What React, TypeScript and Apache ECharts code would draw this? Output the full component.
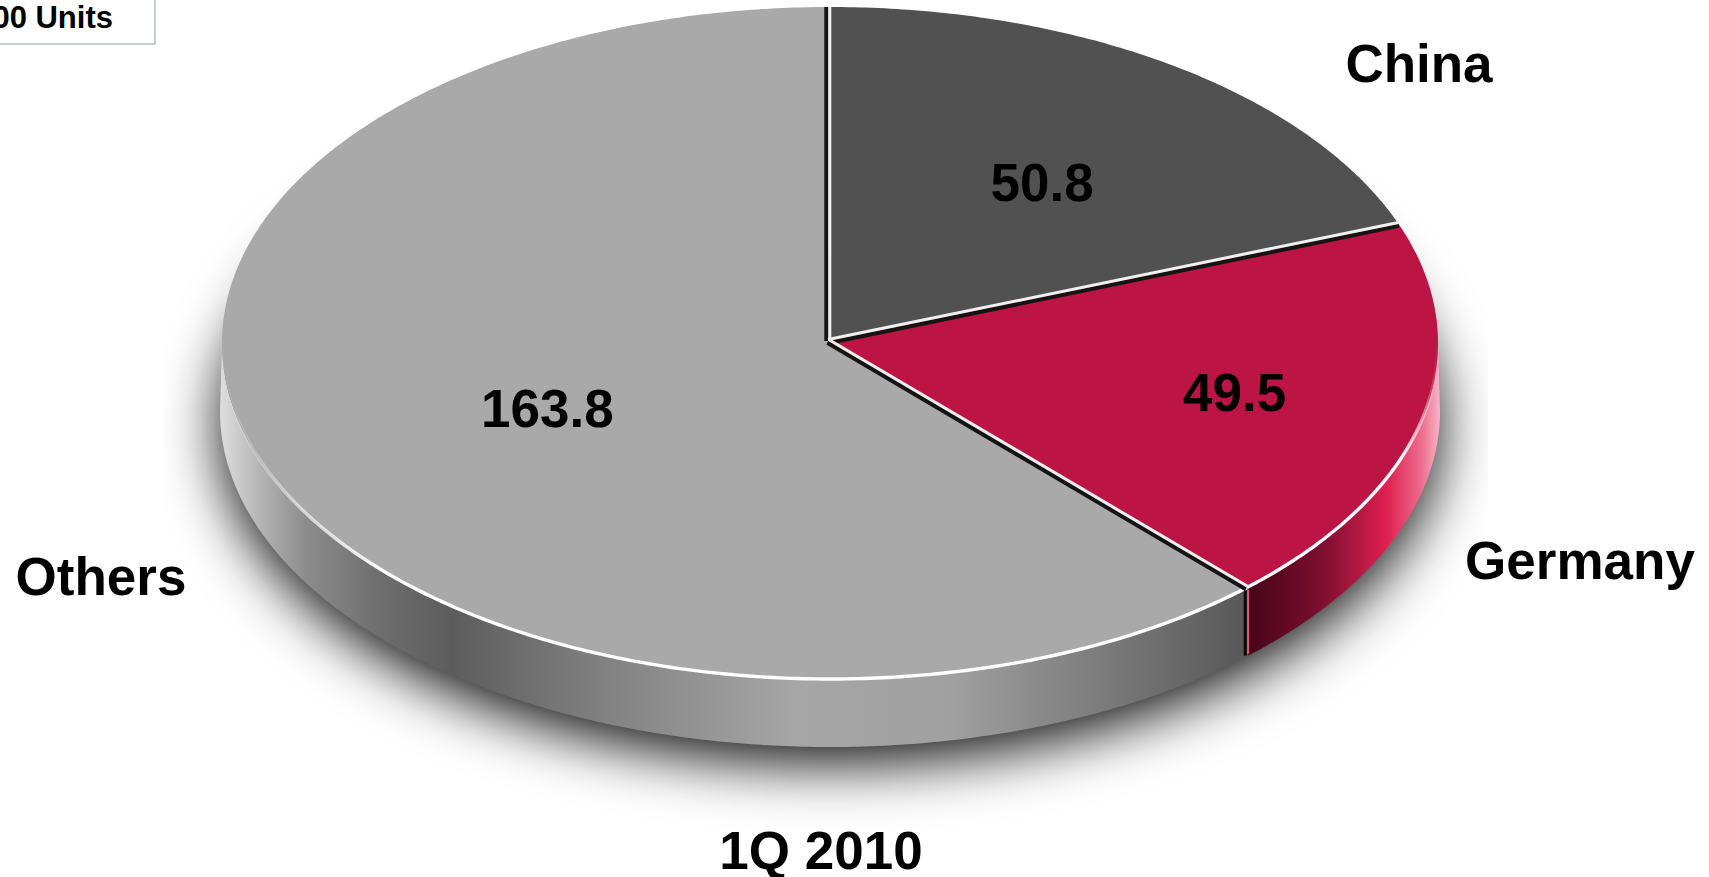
import React, { useEffect, useRef } from "react";
import * as echarts from "echarts";

// Quarterly volumes by market
const categories = ["China", "Germany", "Others"];
const values = [50.8, 49.5, 163.8];
const periodLabel = "1Q 2010";
const unitLabel = "00 Units";

// Disc geometry in page pixels
const CX = 830;
const CY = 343;
const RX = 608;
const RY = 336;
const DEPTH = 68;
const APEX = [828.3, 341];
const FONT = "'Liberation Sans', Arial, sans-serif";

const topColors = ["#515151", "#bc1444", "#a9a9a9"];
const namePositions = [
  [1419, 63],
  [1580, 560],
  [101, 576],
];
const valueRadius = [
  [0.614, 0.58],
  [0.683, 0.66],
  [0.5, 0.529],
];

const greyWall = [
  [0, "#dedede"],
  [0.03, "#b8b8b8"],
  [0.07, "#8c8c8c"],
  [0.13, "#6e6e6e"],
  [0.19, "#5c5c5c"],
  [0.31, "#808080"],
  [0.47, "#a6a6a6"],
  [0.6, "#a0a0a0"],
  [0.72, "#7c7c7c"],
  [0.84, "#585858"],
  [1, "#585858"],
];
const redWall = [
  [0, "#46031a"],
  [0.4, "#7f0e30"],
  [0.72, "#de1f50"],
  [0.9, "#ec6a8c"],
  [1, "#f8b4c8"],
];

const total = values.reduce((a, b) => a + b, 0);
const turn = (v: number) => (v / total) * Math.PI * 2;
const startAngles = values.map((_, i) => turn(values.slice(0, i).reduce((a, b) => a + b, 0)));
const endAngles = values.map((v, i) => startAngles[i] + turn(v));

const onEllipse = (t: number, rx = RX, ry = RY, dy = 0) => [
  CX + rx * Math.sin(t),
  CY + dy - ry * Math.cos(t),
];

const arcPoints = (a: number, b: number, rx = RX, ry = RY, dy = 0) => {
  const n = Math.max(2, Math.ceil(Math.abs(b - a) / 0.01));
  const pts: number[][] = [];
  for (let i = 0; i <= n; i++) pts.push(onEllipse(a + ((b - a) * i) / n, rx, ry, dy));
  return pts;
};

const toPath = (pts: number[][], close = false) =>
  "M" + pts.map((p) => `${p[0].toFixed(2)} ${p[1].toFixed(2)}`).join("L") + (close ? "Z" : "");

const hGradient = (x0: number, x1: number, stops: any[]) => ({
  type: "linear",
  x: x0,
  y: 0,
  x2: x1,
  y2: 0,
  global: true,
  colorStops: stops.map(([offset, color]) => ({ offset, color })),
});

// Pair of parallel strokes (one white, one black) along a slice boundary
const edgePair = (t: number, side: number) => {
  const end = onEllipse(t);
  if (t === 0) end[0] = APEX[0];
  const dx = end[0] - APEX[0];
  const dy = end[1] - APEX[1];
  const len = Math.hypot(dx, dy);
  const nx = (-dy / len) * side;
  const ny = (dx / len) * side;
  const stroke = (off: number, color: string, width: number, z2: number) => ({
    type: "line",
    z2,
    shape: {
      x1: APEX[0] + nx * off,
      y1: APEX[1] + ny * off,
      x2: end[0] + nx * off,
      y2: end[1] + ny * off,
    },
    style: { stroke: color, lineWidth: width, fill: "none" },
  });
  return [stroke(1.5, "#f0f0f0", 3, 5), stroke(-2, "#141414", 4, 4)];
};

const renderSlice = (params: any, api: any) => {
  const i = params.dataIndex;
  const start = startAngles[i];
  const end = endAngles[i];
  const children: any[] = [];

  if (i === 0) {
    // Soft drop shadow cast by the disc, trimmed to a band left and right
    children.push({
      type: "ellipse",
      z2: 0,
      shape: { cx: CX, cy: CY + DEPTH, rx: RX, ry: RY - 1 },
      style: {
        fill: "#555",
        shadowBlur: 60,
        shadowColor: "rgba(0,0,0,0.97)",
        shadowOffsetX: 0,
        shadowOffsetY: 16,
      },
    });
    children.push(
      { type: "rect", z2: 1, shape: { x: 0, y: 0, width: 163, height: 877 }, style: { fill: "#fff" } },
      { type: "rect", z2: 1, shape: { x: 1488, y: 0, width: 221, height: 877 }, style: { fill: "#fff" } },
    );
  }

  // Visible wall: only the front half of the disc, from 90deg to 270deg
  const wallStart = Math.max(start, Math.PI / 2);
  const wallEnd = Math.min(end, (Math.PI * 3) / 2);
  if (wallEnd > wallStart) {
    const upper = arcPoints(wallStart, wallEnd);
    const lower = arcPoints(wallEnd, wallStart, RX + 2, RY, DEPTH);
    const isRed = i === 1;
    children.push({
      type: "path",
      z2: 2,
      shape: { pathData: toPath([...upper, ...lower], true) },
      style: {
        fill: isRed ? hGradient(onEllipse(end)[0], CX + RX + 2, redWall) : hGradient(CX - RX - 2, CX + RX + 2, greyWall),
      },
    });
  }

  // Upper face of the slice
  children.push({
    type: "path",
    z2: 3,
    shape: { pathData: toPath([APEX, ...arcPoints(start, end)], true) },
    style: { fill: topColors[i] },
  });

  // Highlight along the front rim
  if (wallEnd > wallStart) {
    const isRed = i === 1;
    const x0 = isRed ? onEllipse(end)[0] : CX - RX;
    const x1 = isRed ? CX + RX : onEllipse(start)[0];
    const span = x1 - x0;
    const stops = isRed
      ? [
          [0, "rgba(255,255,255,1)"],
          [0.8, "rgba(255,255,255,1)"],
          [0.92, "rgba(255,255,255,0.5)"],
          [1, "rgba(255,255,255,0)"],
        ]
      : [
          [0, "rgba(255,255,255,0)"],
          [70 / span, "rgba(255,255,255,0.55)"],
          [170 / span, "rgba(255,255,255,1)"],
          [1, "rgba(255,255,255,1)"],
        ];
    children.push({
      type: "path",
      z2: 4,
      shape: { pathData: toPath(arcPoints(wallStart, wallEnd)) },
      style: { fill: "none", stroke: hGradient(x0, x1, stops), lineWidth: 3.4 },
    });
  }

  // Boundaries: the white stroke lies clockwise of the black one at the top, anticlockwise elsewhere
  children.push(...edgePair(start, i === 0 ? 1 : -1));

  // Vertical seam on the wall between Germany and Others
  if (i === 1) {
    const p = onEllipse(end);
    children.push(
      {
        type: "line",
        z2: 4,
        shape: { x1: p[0] - 1.5, y1: p[1], x2: p[0] - 1.5, y2: p[1] + DEPTH },
        style: { stroke: "#0c0c0c", lineWidth: 3.2 },
      },
      {
        type: "line",
        z2: 4,
        shape: { x1: p[0] + 1.2, y1: p[1] + 2, x2: p[0] + 1.2, y2: p[1] + DEPTH - 2 },
        style: { stroke: "#e2547a", lineWidth: 2.2 },
      },
    );
  }

  // Value and market labels
  const mid = (start + end) / 2;
  children.push({
    type: "text",
    z2: 6,
    style: {
      x: CX + RX * valueRadius[i][0] * Math.sin(mid),
      y: CY - RY * valueRadius[i][1] * Math.cos(mid),
      text: String(api.value(0)),
      fill: "#000",
      font: `bold 53px ${FONT}`,
      align: "center",
      verticalAlign: "middle",
    },
  });
  children.push({
    type: "text",
    z2: 6,
    style: {
      x: namePositions[i][0],
      y: namePositions[i][1],
      text: categories[i],
      fill: "#000",
      font: `bold 53px ${FONT}`,
      align: "center",
      verticalAlign: "middle",
    },
  });

  return { type: "group", children };
};

export default function App() {
  const ref = useRef<HTMLDivElement>(null);

  useEffect(() => {
    const chart = echarts.init(ref.current!, null, { renderer: "svg" });
    chart.setOption({
      animation: false,
      backgroundColor: "#ffffff",
      graphic: [
        {
          type: "rect",
          z: 10,
          shape: { x: -10, y: -10, width: 165, height: 54 },
          style: { fill: "#fff", stroke: "#b6bcc0", lineWidth: 1.5 },
        },
        {
          type: "text",
          z: 11,
          style: {
            x: 113,
            y: 17,
            text: unitLabel,
            fill: "#000",
            font: `bold 31px ${FONT}`,
            align: "right",
            verticalAlign: "middle",
          },
        },
        {
          type: "text",
          z: 11,
          style: {
            x: 821,
            y: 850.5,
            text: periodLabel,
            fill: "#000",
            font: `bold 53px ${FONT}`,
            align: "center",
            verticalAlign: "middle",
          },
        },
      ],
      series: [
        {
          type: "custom",
          coordinateSystem: "none",
          silent: true,
          clip: false,
          renderItem: renderSlice,
          data: values.map((v) => [v]),
        },
      ],
    });
    return () => chart.dispose();
  }, []);

  return (
    <div
      ref={ref}
      style={{ position: "fixed", left: 0, top: 0, width: 1709, height: 877, background: "#fff" }}
    />
  );
}
